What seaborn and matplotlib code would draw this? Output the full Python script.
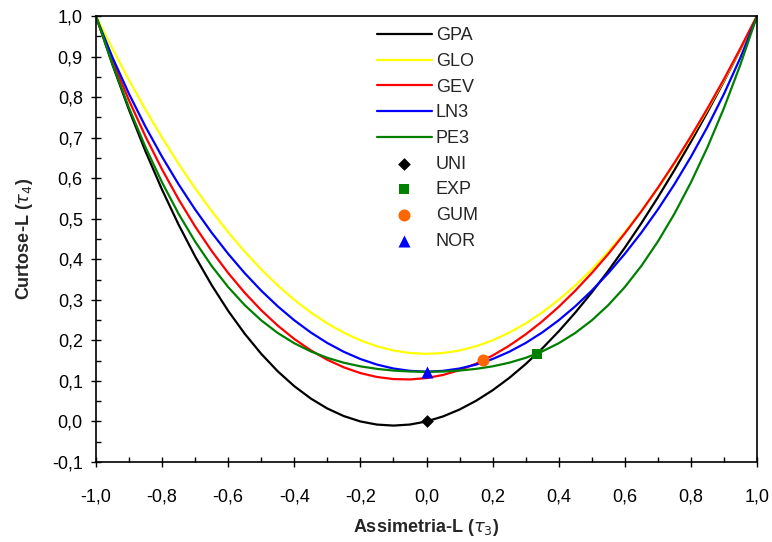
import numpy as np
import pandas as pd
import matplotlib
matplotlib.use("Agg")
import matplotlib.pyplot as plt
from matplotlib.ticker import MultipleLocator, FuncFormatter
import seaborn as sns

# L-skewness grid (tau3) and L-kurtosis (tau4) values read for each curve
tau3 = [-1.00, -0.95, -0.90, -0.85, -0.80, -0.75, -0.70, -0.65, -0.60, -0.55,
        -0.50, -0.45, -0.40, -0.35, -0.30, -0.25, -0.20, -0.15, -0.10, -0.05,
        0.00, 0.05, 0.10, 0.15, 0.20, 0.25, 0.30, 0.35, 0.40, 0.45,
        0.50, 0.55, 0.60, 0.65, 0.70, 0.75, 0.80, 0.85, 0.90, 0.95, 1.00]

gpa = [1.0000, 0.8796, 0.7683, 0.6657, 0.5714, 0.4853, 0.4070, 0.3362, 0.2727, 0.2163,
       0.1667, 0.1236, 0.0870, 0.0565, 0.0319, 0.0132, 0.0000, -0.0077, -0.0102, -0.0076,
       0.0000, 0.0124, 0.0294, 0.0510, 0.0769, 0.1071, 0.1415, 0.1799, 0.2222, 0.2683,
       0.3182, 0.3716, 0.4286, 0.4889, 0.5526, 0.6196, 0.6897, 0.7628, 0.8390, 0.9181, 1.0000]

glo = [1.0000, 0.9188, 0.8417, 0.7688, 0.7000, 0.6354, 0.5750, 0.5188, 0.4667, 0.4188,
       0.3750, 0.3354, 0.3000, 0.2688, 0.2417, 0.2188, 0.2000, 0.1854, 0.1750, 0.1688,
       0.1667, 0.1688, 0.1750, 0.1854, 0.2000, 0.2188, 0.2417, 0.2688, 0.3000, 0.3354,
       0.3750, 0.4188, 0.4667, 0.5188, 0.5750, 0.6354, 0.7000, 0.7688, 0.8417, 0.9188, 1.0000]

gev = [0.9966, 0.8893, 0.7916, 0.7025, 0.6214, 0.5477, 0.4808, 0.4204, 0.3661, 0.3174,
       0.2743, 0.2363, 0.2034, 0.1754, 0.1521, 0.1334, 0.1193, 0.1097, 0.1045, 0.1036,
       0.1070, 0.1147, 0.1265, 0.1425, 0.1626, 0.1867, 0.2148, 0.2468, 0.2827, 0.3224,
       0.3659, 0.4130, 0.4638, 0.5182, 0.5762, 0.6378, 0.7030, 0.7718, 0.8443, 0.9206, 1.0000]

ln3 = [0.9981, 0.8976, 0.8077, 0.7265, 0.6526, 0.5848, 0.5227, 0.4656, 0.4134, 0.3657,
       0.3226, 0.2839, 0.2495, 0.2194, 0.1935, 0.1717, 0.1540, 0.1403, 0.1306, 0.1248,
       0.1228, 0.1248, 0.1306, 0.1403, 0.1540, 0.1717, 0.1935, 0.2194, 0.2495, 0.2839,
       0.3226, 0.3657, 0.4134, 0.4656, 0.5227, 0.5848, 0.6526, 0.7265, 0.8077, 0.8976, 0.9981]

pe3 = [1.0000, 0.8806, 0.7729, 0.6761, 0.5894, 0.5120, 0.4436, 0.3835, 0.3314, 0.2869,
       0.2493, 0.2182, 0.1929, 0.1727, 0.1569, 0.1448, 0.1359, 0.1297, 0.1255, 0.1232,
       0.1224, 0.1232, 0.1255, 0.1297, 0.1359, 0.1448, 0.1569, 0.1727, 0.1929, 0.2182,
       0.2493, 0.2869, 0.3314, 0.3835, 0.4436, 0.5120, 0.5894, 0.6761, 0.7729, 0.8806, 1.0000]

curve_names = ["GPA", "GLO", "GEV", "LN3", "PE3"]
curve_values = [gpa, glo, gev, ln3, pe3]
curve_colors = ["#000000", "#FFFF00", "#FF0000", "#0000FF", "#008000"]

point_names = ["UNI", "EXP", "GUM", "NOR"]
point_tau3 = [0.0, 0.3333, 0.1699, 0.0]
point_tau4 = [0.0, 0.1667, 0.1504, 0.1226]
point_colors = ["#000000", "#008000", "#FF6600", "#0000FF"]
point_markers = ["D", "s", "o", "^"]
point_sizes = [42, 58, 75, 75]

sns.set_style("white")
plt.rcParams["font.family"] = ["Liberation Sans", "DejaVu Sans"]

FS = 13

fig = plt.figure(figsize=(7.72, 5.42), dpi=100)
ax = fig.add_axes([96 / 772, 1 - 462 / 542, (757 - 96) / 772, (462 - 16) / 542])

for name, vals, col in zip(curve_names, curve_values, curve_colors):
    df = pd.DataFrame({"t3": tau3, "t4": vals})
    sns.lineplot(data=df, x="t3", y="t4", color=col, linewidth=1.6,
                 label=name, sort=False, ax=ax, zorder=2)

for name, x, y, col, mk, sz in zip(point_names, point_tau3, point_tau4,
                                   point_colors, point_markers, point_sizes):
    sns.scatterplot(x=[x], y=[y], color=col, marker=mk, s=sz, linewidth=0,
                    label=name, ax=ax, zorder=3)

ax.set_xlim(-1.0, 1.0)
ax.set_ylim(-0.1, 1.0)
ax.xaxis.set_major_locator(MultipleLocator(0.2))
ax.xaxis.set_minor_locator(MultipleLocator(0.1))
ax.yaxis.set_major_locator(MultipleLocator(0.1))
ax.yaxis.set_minor_locator(MultipleLocator(0.05))
fmt = FuncFormatter(lambda v, p: f"{v:.1f}".replace(".", ",").replace("-0,0", "0,0"))
ax.xaxis.set_major_formatter(fmt)
ax.yaxis.set_major_formatter(fmt)
ax.tick_params(which="major", direction="inout", length=7, width=1.0,
               color="black", labelsize=FS, labelcolor="black")
ax.tick_params(which="minor", direction="in", length=3.5, width=1.0, color="black")
ax.tick_params(axis="x", which="both", bottom=True, top=False)
ax.tick_params(axis="x", which="major", pad=15.5)
ax.tick_params(axis="y", which="both", left=True, right=False)
ax.tick_params(axis="y", which="major", pad=6)

for sp in ax.spines.values():
    sp.set_visible(True)
    sp.set_color("black")
    sp.set_linewidth(1.2)

ax.set_xlabel(r"Assimetria-L ($\tau_3$)", fontsize=FS, fontweight="bold", labelpad=8)
ax.set_ylabel(r"Curtose-L ($\tau_4$)", fontsize=FS, fontweight="bold", labelpad=12)

leg = ax.legend(loc="upper left", bbox_to_anchor=(0.414, 0.991), frameon=False,
                fontsize=FS, handlelength=3.05, handletextpad=0.22,
                labelspacing=0.48, borderaxespad=0.0)

fig.savefig("out.png", dpi=100)
